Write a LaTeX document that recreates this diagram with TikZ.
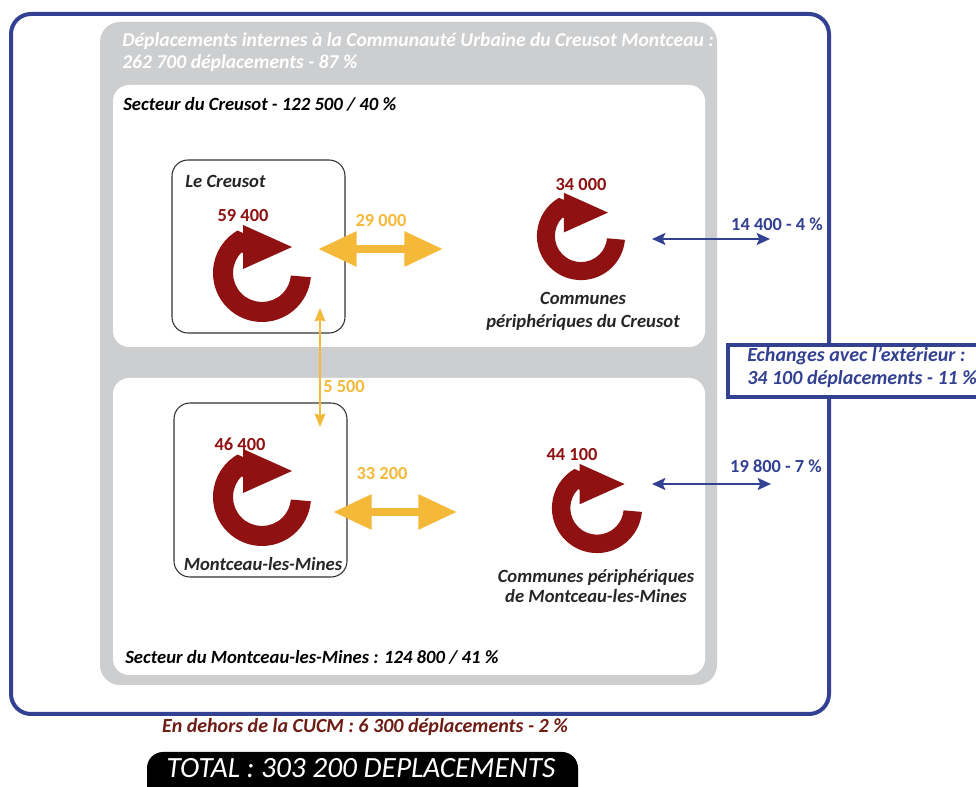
\documentclass[tikz,border=0pt]{standalone}
\usepackage{fontspec}
\setmainfont{Carlito}
\usetikzlibrary{arrows.meta}
\definecolor{frameblue}{RGB}{50,65,145}
\definecolor{panelgray}{RGB}{205,206,208}
\definecolor{cred}{RGB}{143,17,17}
\definecolor{corange}{RGB}{245,185,58}
\definecolor{cbrown}{RGB}{110,28,20}
\newcommand\myfhdr{\fontsize{14.7pt}{17pt}\selectfont\bfseries\itshape}
\newcommand\myfext{\fontsize{15pt}{17pt}\selectfont\bfseries\itshape}
\newcommand\myfsect{\fontsize{14pt}{16pt}\selectfont\bfseries\itshape}
\newcommand\myfnum{\fontsize{13.8pt}{16pt}\selectfont\bfseries}
\newcommand\myflbl{\fontsize{14pt}{16pt}\selectfont\bfseries\itshape}
\newcommand\myfout{\fontsize{15pt}{17pt}\selectfont\bfseries\itshape}
\newcommand\myftot{\fontsize{22pt}{25pt}\selectfont\itshape}
\begin{document}
\begin{tikzpicture}[x=0.75pt,y=-0.75pt,
  txt/.style={inner sep=0pt},
  hdr/.style={txt,font=\myfhdr,text=white,anchor=west},
  sect/.style={txt,font=\myfsect,text=black,anchor=west},
  num/.style={txt,font=\myfnum,text=cred},
  onum/.style={txt,font=\myfnum,text=corange},
  bnum/.style={txt,font=\myfnum,text=frameblue},
  lbl/.style={txt,font=\myflbl,text=black!85},
  cityframe/.style={draw=black!80,line width=0.8pt,rounded corners=12pt},
  fatarrow/.style={draw=corange,line width=6pt,
    {Triangle[length=29pt,width=25pt]}-{Triangle[length=29pt,width=25pt]}},
  thinorange/.style={draw=corange,line width=1.4pt,
    {Stealth[length=10pt,width=8pt,inset=1pt]}-{Stealth[length=10pt,width=8pt,inset=1pt]}},
  bluearrow/.style={draw=frameblue,line width=1.8pt,
    {Stealth[length=10pt,width=9pt,inset=2pt]}-{Stealth[length=10pt,width=9pt,inset=2pt]}},
  circarrow/.pic={
    \fill[cred] (5:49) arc[start angle=5,end angle=240,radius=49]
      -- (-19,-40) -- (-19,-48) -- (30,-26) -- (-19,-4) -- (-19,-20)
      -- (225:29) arc[start angle=225,end angle=5,radius=29] -- cycle;
  }]
\useasboundingbox (0,0) rectangle (976,787);
\fill[white] (0,0) rectangle (976,787);
% outer frame
\draw[frameblue,line width=3pt,rounded corners=15pt] (11,14) rectangle (829,714);
% gray panel
\fill[panelgray,rounded corners=15pt] (100,22) rectangle (717,685);
\fill[white,rounded corners=12pt] (113,85) rectangle (705,347);
\fill[white,rounded corners=12pt] (113,378) rectangle (705,675);
% city boxes
\draw[cityframe] (172,160) rectangle (345,333);
\draw[cityframe] (174,403) rectangle (347,577);
% circular arrows
\pic at (262,273) {circarrow};
\pic at (262,497) {circarrow};
\pic[scale=0.9] at (581,236) {circarrow};
\pic[scale=0.92] at (597,508) {circarrow};
% connectors
\coordinate (o1a) at (318,249);
\coordinate (o1b) at (443,249);
\coordinate (o2a) at (333,512);
\coordinate (o2b) at (457,512);
\coordinate (v1) at (320,308);
\coordinate (v2) at (320,427);
\coordinate (b1a) at (652,239);
\coordinate (b1b) at (770,239);
\coordinate (b2a) at (652,484);
\coordinate (b2b) at (771,484);
\draw[fatarrow] (o1a) -- (o1b);
\draw[fatarrow] (o2a) -- (o2b);
\draw[thinorange] (v1) -- (v2);
\draw[bluearrow] (b1a) -- (b1b);
\draw[bluearrow] (b2a) -- (b2b);
% exterior box
\draw[frameblue,line width=3pt,fill=white] (728,345) rectangle (1000,397);
\node[txt,font=\myfext,text=frameblue,anchor=west] (ext1) at (747,356) {Echanges avec l'extérieur :};
\node[txt,font=\myfext,text=frameblue,anchor=west] (ext2) at (747,379) {34 100 déplacements - 11 \%};
% texts
\node[hdr] (h1) at (122,41) {Déplacements internes à la Communauté Urbaine du Creusot Montceau :};
\node[hdr] (h2) at (122,63) {262 700 déplacements - 87 \%};
\node[sect] (s1) at (123,104) {Secteur du Creusot - 122 500 / 40 \%};
\node[sect] (s2) at (125,657) {Secteur du Montceau-les-Mines : 124 800 / 41 \%};
\node[lbl,anchor=west] (lc) at (185,181) {Le Creusot};
\node[lbl] (mm) at (263,564) {Montceau-les-Mines};
\node[num] (n1) at (243,216) {59 400};
\node[num] (n2) at (240,444) {46 400};
\node[num] (n3) at (581,185) {34 000};
\node[num] (n4) at (572,455) {44 100};
\node[onum] (l1) at (381,221) {29 000};
\node[onum] (l2) at (382,474) {33 200};
\node[onum] (l3) at (344,387) {5 500};
\node[bnum] (l4) at (777,224) {14 400 - 4 \%};
\node[bnum] (l5) at (776,466) {19 800 - 7 \%};
\node[lbl] (c1) at (583,298) {Communes};
\node[lbl] (c2) at (583,322) {périphériques du Creusot};
\node[lbl] (c3) at (596,577) {Communes périphériques};
\node[lbl] (c4) at (596,596) {de Montceau-les-Mines};
\node[txt,font=\myfout,text=cbrown] (out) at (365,727) {En dehors de la CUCM : 6 300 déplacements - 2 \%};
\fill[black,rounded corners=12pt] (147,752) rectangle (578,810);
\node[txt,font=\myftot,text=white] (tot) at (361,768) {TOTAL : 303 200 DEPLACEMENTS};
\end{tikzpicture}
\end{document}
